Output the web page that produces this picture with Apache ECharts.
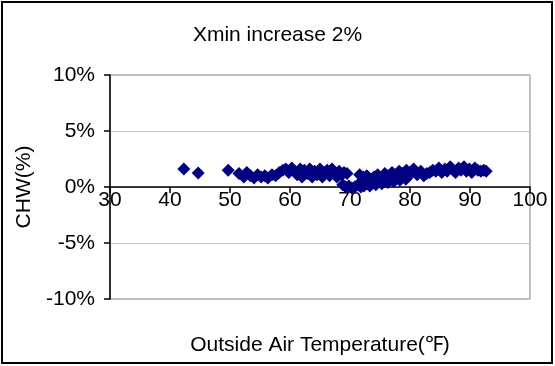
<!DOCTYPE html>
<html>
<head>
<meta charset="utf-8">
<script src="https://cdn.jsdelivr.net/npm/echarts@6/dist/echarts.min.js"></script>
<style>
  html, body { margin: 0; padding: 0; background: #fff; }
  #chart { width: 555px; height: 366px; }
</style>
</head>
<body>
<div id="chart"></div>
<script>
// Outside air temperature (°F) for each sample
const temperature = [
  42.3, 44.7, 49.7,
  51.5, 52.3, 52.8, 53.4, 54.0, 54.6, 55.2, 55.8, 56.3, 57.0, 57.6, 58.2, 58.8, 59.3, 59.8,
  60.3, 60.8, 61.2, 61.7, 62.0, 62.4, 62.9, 63.3, 63.7, 64.1, 64.5, 65.0, 65.4, 65.8, 66.2,
  66.6, 67.0, 67.4, 67.8, 68.2, 68.6, 69.0, 69.5,
  68.8, 69.3, 69.8, 70.3, 70.8, 71.3, 71.8, 72.3, 72.8, 73.3, 73.8, 74.3, 74.8, 75.3, 75.8,
  76.3, 76.8, 77.3, 77.8, 78.3, 78.8, 79.3, 79.8,
  71.6, 72.2, 72.8, 73.4, 74.0, 74.6, 75.2, 75.8, 76.4, 77.0, 77.6, 78.2, 78.8, 79.4, 80.0,
  80.6, 81.2, 81.8, 82.3, 82.8, 83.3, 83.8, 84.3, 84.8, 85.3, 85.8, 86.2, 86.7, 87.2, 87.6,
  88.1, 88.5, 89.0, 89.4, 89.9, 90.3, 90.8, 91.3, 91.8, 92.3, 92.7
];

// Change in chilled-water energy (%) for each sample
const chwChange = [
  1.6, 1.25, 1.5,
  1.2, 0.9, 1.3, 1.0, 0.8, 1.1, 0.9, 1.0, 0.8, 1.1, 1.0, 1.3, 1.5, 1.6, 1.3,
  1.7, 1.4, 1.1, 1.6, 0.9, 1.5, 1.2, 1.6, 0.9, 1.4, 1.1, 1.6, 0.9, 1.3, 1.5,
  1.0, 1.6, 1.2, 0.9, 1.4, 1.1, 1.3, 1.2,
  0.2, 0.0, 0.1, -0.1, 0.0, 0.2, 0.0, 0.1, 0.3, 0.1, 0.4, 0.2, 0.5, 0.3, 0.6,
  0.4, 0.7, 0.5, 0.8, 0.6, 0.9, 0.7, 1.0,
  1.1, 0.9, 1.0, 0.7, 0.9, 1.1, 0.8, 1.2, 1.0, 1.3, 1.1, 1.4, 1.2, 1.5, 1.3,
  1.6, 1.1, 1.4, 1.0, 1.2, 1.3, 1.5, 1.4, 1.7, 1.3, 1.6, 1.4, 1.8, 1.5, 1.3,
  1.7, 1.5, 1.8, 1.4, 1.6, 1.3, 1.7, 1.5, 1.4, 1.5, 1.4
];

const chartTitle = 'Xmin increase 2%';
const xAxisTitle = 'Outside Air Temperature(℉)';
const yAxisTitle = 'CHW(%)';

const points = temperature.map((t, i) => [t, chwChange[i]]);

const FONT = 'Liberation Sans, Arial, sans-serif';
const FONT_SIZE = 21;

const GRID = { left: 110, right: 25, top: 75, bottom: 67 };
const plotHeight = 366 - GRID.top - GRID.bottom;

const chart = echarts.init(document.getElementById('chart'), null, { renderer: 'canvas' });

chart.setOption({
  animation: false,
  backgroundColor: '#ffffff',
  title: {
    text: chartTitle,
    left: 'center',
    top: 20,
    textStyle: { fontFamily: FONT, fontSize: FONT_SIZE, fontWeight: 'normal', color: '#000' }
  },
  grid: Object.assign({ show: true, borderColor: '#808080', borderWidth: 1 }, GRID),
  xAxis: {
    type: 'value',
    min: 30, max: 100, interval: 10,
    // the horizontal axis (line, ticks, labels) sits on the 0% line, mid-height of the plot
    offset: -plotHeight / 2,
    axisLine: { onZero: false, lineStyle: { color: '#000', width: 1.5 } },
    axisTick: { show: true, length: 6, lineStyle: { color: '#000', width: 1.5 } },
    axisLabel: { fontFamily: FONT, fontSize: FONT_SIZE, color: '#000', margin: 3 },
    splitLine: { show: false }
  },
  yAxis: {
    type: 'value',
    min: -10, max: 10, interval: 5,
    name: yAxisTitle,
    nameLocation: 'middle',
    nameRotate: 90,
    nameGap: 71,
    nameTextStyle: { fontFamily: FONT, fontSize: FONT_SIZE, color: '#000' },
    axisLine: { show: true, lineStyle: { color: '#000', width: 1.5 } },
    axisTick: { show: true, length: 6, lineStyle: { color: '#000', width: 1.5 } },
    axisLabel: { fontFamily: FONT, fontSize: FONT_SIZE, color: '#000', margin: 15, formatter: '{value}%' },
    splitLine: { show: true, lineStyle: { color: '#c0c0c0', width: 1 } }
  },
  graphic: [
    {
      type: 'rect',
      shape: { x: 2, y: 2, width: 550, height: 361 },
      style: { fill: 'none', stroke: '#000', lineWidth: 2 },
      silent: true
    },
    {
      type: 'text',
      x: 320, y: 345,
      style: {
        text: xAxisTitle,
        fontFamily: FONT, fontSize: FONT_SIZE, fill: '#000',
        textAlign: 'center', textVerticalAlign: 'middle'
      }
    }
  ],
  series: [{
    type: 'scatter',
    data: points,
    symbol: 'diamond',
    symbolSize: 13,
    itemStyle: { color: '#000080', opacity: 1 }
  }]
});
</script>
</body>
</html>
